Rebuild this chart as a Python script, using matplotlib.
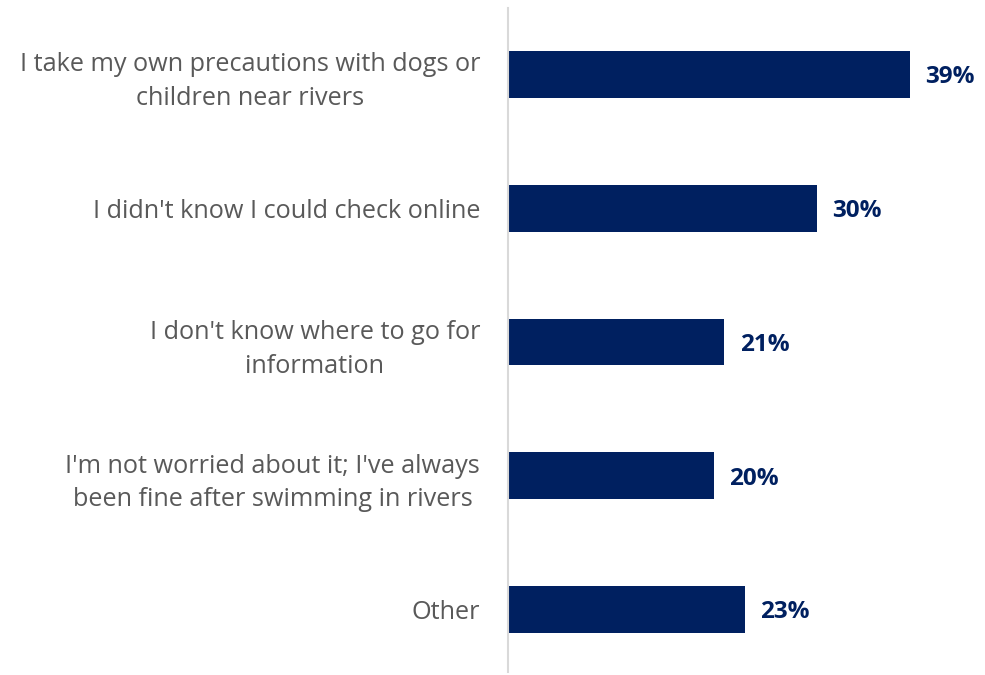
#!/usr/bin/env python3
"""Horizontal bar chart of reasons for not checking river water quality."""

import matplotlib.pyplot as plt
import numpy as np

CATEGORIES = [
    "I take my own precautions with dogs or\nchildren near rivers",
    "I didn't know I could check online",
    "I don't know where to go for\ninformation",
    "I'm not worried about it; I've always\nbeen fine after swimming in rivers",
    "Other",
]
VALUES = [39, 30, 21, 20, 23]

BAR_COLOR = "#002060"
LABEL_COLOR = "#595959"

plt.rcParams["font.family"] = ["Open Sans", "DejaVu Sans"]

fig = plt.figure(figsize=(9.85, 6.75), dpi=100)
ax = fig.add_axes([508 / 985, 3 / 675, 477 / 985, 664 / 675])

y = np.arange(len(CATEGORIES))
ax.barh(y, VALUES, height=0.35, color=BAR_COLOR)

for yi, v in zip(y, VALUES):
    ax.text(v + 1.5, yi + 0.02, f"{v}%", va="center", ha="left",
            fontsize=17.5, fontweight="bold", color=BAR_COLOR)

ax.set_xlim(0, 46.3)
ax.set_ylim(4.465, -0.495)
ax.set_yticks(y)
ax.set_yticklabels(CATEGORIES, fontsize=18.2, color=LABEL_COLOR)
for lbl in ax.get_yticklabels():
    lbl.set_multialignment("center")
    lbl.set_linespacing(1.45)
ax.tick_params(axis="y", length=0, pad=20)
ax.set_xticks([])

for side in ("top", "right", "bottom"):
    ax.spines[side].set_visible(False)
ax.spines["left"].set_color("#d9d9d9")
ax.spines["left"].set_linewidth(1.5)

fig.savefig("out.png", dpi=100)
